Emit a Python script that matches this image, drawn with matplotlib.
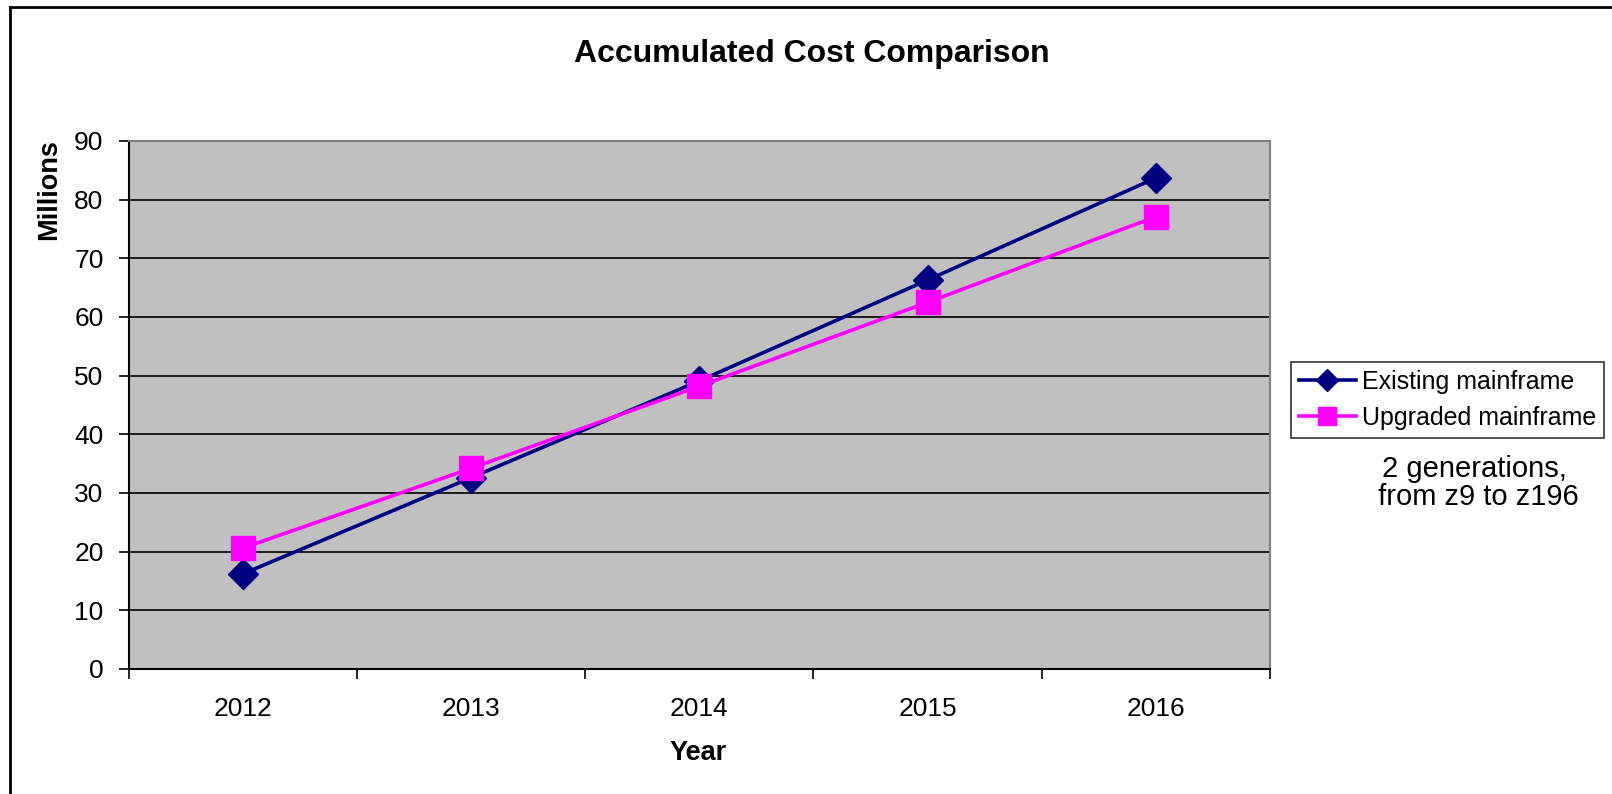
import numpy as np
import matplotlib
matplotlib.use("Agg")
import matplotlib.pyplot as plt
from matplotlib.lines import Line2D
from matplotlib.ticker import FixedLocator, NullFormatter

plt.rcParams["font.family"] = ["Liberation Sans", "DejaVu Sans"]

# data (millions)
years = ["2012", "2013", "2014", "2015", "2016"]
existing = [16.2, 32.6, 49.1, 66.3, 83.7]
upgraded = [20.6, 34.2, 48.2, 62.5, 77.1]
y_ticks = [0, 10, 20, 30, 40, 50, 60, 70, 80, 90]

W, H = 1612, 794
fig = plt.figure(figsize=(W / 100, H / 100), dpi=100)

ax = fig.add_axes([128.5 / W, 1 - 669 / H, (1270 - 128.5) / W, (669 - 141) / H])
ax.set_facecolor("#C0C0C0")

x = np.arange(len(years))
ax.plot(x, existing, color="#000080", linewidth=2.6, marker="D", markersize=15,
        label="Existing mainframe", zorder=3)
ax.plot(x, upgraded, color="#FF00FF", linewidth=2.6, marker="s", markersize=17,
        label="Upgraded mainframe", zorder=4)

ax.set_xlim(-0.5, len(years) - 0.5)
ax.set_ylim(0, 90)

# category ticks sit on the boundaries, labels in the middle
ax.xaxis.set_major_locator(FixedLocator(np.arange(-0.5, len(years), 1.0)))
ax.xaxis.set_major_formatter(NullFormatter())
ax.xaxis.set_minor_locator(FixedLocator(x))
ax.set_xticklabels(years, minor=True)
ax.tick_params(axis="x", which="major", direction="out", length=7, width=1.2, color="black")
ax.tick_params(axis="x", which="minor", length=0, pad=20, labelsize=19)

ax.set_yticks(y_ticks)
ax.tick_params(axis="y", direction="out", length=7, width=1.2, pad=11, labelsize=19)

ax.grid(True, axis="y", color="black", linewidth=1.2, zorder=1)
ax.set_axisbelow(True)

for side in ("top", "right"):
    ax.spines[side].set_color("#808080")
    ax.spines[side].set_linewidth(1.5)
for side in ("left", "bottom"):
    ax.spines[side].set_color("black")
    ax.spines[side].set_linewidth(1.5)

fig.text(812 / W, 1 - 54 / H, "Accumulated Cost Comparison", ha="center", va="center",
         fontsize=23, fontweight="bold")
fig.text(49 / W, 1 - 190 / H, "Millions", ha="center", va="center", rotation=90,
         fontsize=19.5, fontweight="bold")
fig.text(698 / W, 1 - 753 / H, "Year", ha="center", va="center",
         fontsize=19.5, fontweight="bold")

leg = ax.legend(loc="upper left", bbox_to_anchor=(1291 / W, 1 - 362 / H),
                bbox_transform=fig.transFigure, frameon=True, fancybox=False,
                fontsize=18, handlelength=2.3, handletextpad=0.25,
                borderpad=0.3, labelspacing=0.5, borderaxespad=0, markerscale=0.75)
leg.get_frame().set_edgecolor("black")
leg.get_frame().set_linewidth(1.2)

fig.text(1474 / W, 1 - 483 / H, "2 generations,\n from z9 to z196", ha="center", va="center",
         fontsize=21, linespacing=1.0)

# outer chart border, only top and left are inside the image
fig.add_artist(Line2D([10 / W, 1.0], [1 - 7 / H, 1 - 7 / H], transform=fig.transFigure,
                      color="black", linewidth=2))
fig.add_artist(Line2D([10 / W, 10 / W], [0, 1 - 7 / H], transform=fig.transFigure,
                      color="black", linewidth=2))

fig.savefig("out.png", dpi=100)
